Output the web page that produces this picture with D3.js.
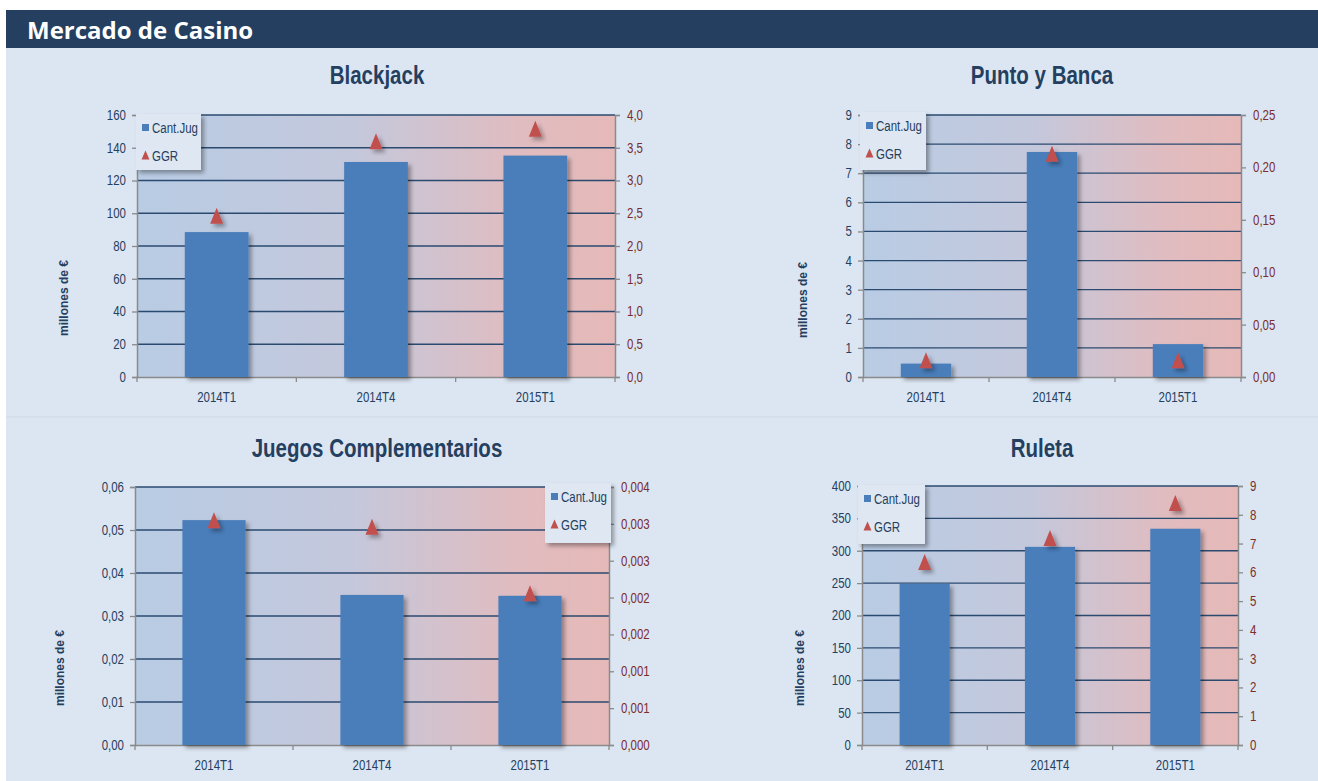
<!DOCTYPE html>
<html>
<head>
<meta charset="utf-8">
<script src="https://cdn.jsdelivr.net/npm/d3@7"></script>
<style>
  html, body { margin: 0; padding: 0; background: #ffffff; }
  svg { display: block; }
  text { font-family: "Liberation Sans", Arial, sans-serif; }
</style>
</head>
<body>
<svg width="1318" height="781"></svg>
<script>
// categorias y valores
const categories = ['2014T1', '2014T4', '2015T1'];

const blackjackJug = [88.5, 131.3, 135.2];
const blackjackGgr = [2.46, 3.60, 3.79];
const blackjackLeftTicks = [0, 20, 40, 60, 80, 100, 120, 140, 160];
const blackjackRightTicks = [0, 0.5, 1, 1.5, 2, 2.5, 3, 3.5, 4];

const puntoJug = [0.46, 7.73, 1.13];
const puntoGgr = [0.016, 0.213, 0.016];
const puntoLeftTicks = [0, 1, 2, 3, 4, 5, 6, 7, 8, 9];
const puntoRightTicks = [0, 0.05, 0.1, 0.15, 0.2, 0.25];

const juegosJug = [0.0523, 0.0349, 0.0347];
const juegosGgr = [0.00305, 0.00296, 0.00206];
const juegosLeftTicks = [0, 0.01, 0.02, 0.03, 0.04, 0.05, 0.06];
const juegosRightTicks = [0, 0.0005, 0.001, 0.0015, 0.002, 0.0025, 0.003, 0.0035];
const juegosRightLabels = ['0,000', '0,001', '0,001', '0,002', '0,002', '0,003', '0,003', '0,004'];

const ruletaJug = [249, 306, 334];
const ruletaGgr = [6.36, 7.19, 8.41];
const ruletaLeftTicks = [0, 50, 100, 150, 200, 250, 300, 350, 400];
const ruletaRightTicks = [0, 1, 2, 3, 4, 5, 6, 7, 8, 9];

const seriesNames = ['Cant.Jug', 'GGR'];

const svg = d3.select('svg');
const width = +svg.attr('width');
const height = +svg.attr('height');

const navy = '#243f60';
const barColor = '#4a7ebb';
const triColor = '#c0504d';
const axisGray = '#8a8a8a';
const narrow = 0.82; // imita Arial Narrow

const comma = f => v => d3.format(f)(v).replace('.', ',');

// estrecha un texto horizontalmente sin mover su ancla
function condense(sel) {
  sel.each(function() {
    const t = d3.select(this);
    const x0 = +t.attr('x') || 0;
    t.attr('x', 0).attr('transform', `translate(${x0},0) scale(${narrow},1)`);
  });
}

// fondo
svg.append('rect').attr('x', 6).attr('y', 48).attr('width', width - 6).attr('height', height - 48)
  .attr('fill', '#dce6f2');
svg.append('rect').attr('x', 6).attr('y', 10).attr('width', width - 6).attr('height', 38)
  .attr('fill', navy);
svg.append('text').attr('x', 27).attr('y', 39)
  .style('font-family', '"Open Sans", "Noto Sans", sans-serif')
  .style('font-weight', 700).style('font-size', '24px')
  .attr('fill', '#ffffff').text('Mercado de Casino');
svg.append('line').attr('x1', 6).attr('x2', width).attr('y1', 417).attr('y2', 417)
  .attr('stroke', '#cfd9e6').attr('stroke-width', 1);

const defs = svg.append('defs');
const grad = defs.append('linearGradient').attr('id', 'plotBg')
  .attr('x1', '0%').attr('x2', '100%').attr('y1', '0%').attr('y2', '0%');
grad.append('stop').attr('offset', '0%').attr('stop-color', '#b8cce4');
grad.append('stop').attr('offset', '45%').attr('stop-color', '#c4c8dc');
grad.append('stop').attr('offset', '80%').attr('stop-color', '#e0bcc0');
grad.append('stop').attr('offset', '100%').attr('stop-color', '#e6b9b8');

const shadow = defs.append('filter').attr('id', 'shadow')
  .attr('x', '-20%').attr('y', '-20%').attr('width', '160%').attr('height', '160%');
shadow.append('feDropShadow').attr('dx', 3).attr('dy', 3).attr('stdDeviation', 2.2)
  .attr('flood-color', '#000').attr('flood-opacity', 0.35);

function trianglePath(cx, cy, w, h) {
  return `M${cx},${cy - h / 2}L${cx + w / 2},${cy + h / 2}L${cx - w / 2},${cy + h / 2}Z`;
}

function drawPanel(cfg) {
  const p = cfg.plot;
  const g = svg.append('g');

  const x = d3.scaleBand().domain(categories).range([p.x, p.x + p.w])
    .paddingInner(0.6).paddingOuter(0.3);
  const yL = d3.scaleLinear().domain(d3.extent(cfg.leftTicks)).range([p.y + p.h, p.y]);
  const yR = d3.scaleLinear().domain(d3.extent(cfg.rightTicks)).range([p.y + p.h, p.y]);

  g.append('rect').attr('x', p.x).attr('y', p.y).attr('width', p.w).attr('height', p.h)
    .attr('fill', 'url(#plotBg)');

  // lineas de cuadricula
  g.selectAll('.grid').data(cfg.leftTicks.slice(1)).join('line')
    .attr('x1', p.x).attr('x2', p.x + p.w)
    .attr('y1', d => yL(d)).attr('y2', d => yL(d))
    .attr('stroke', '#2b4a6f').attr('stroke-width', 1.3);

  // ejes
  const left = g.append('g').attr('transform', `translate(${p.x},0)`)
    .call(d3.axisLeft(yL).tickValues(cfg.leftTicks).tickFormat(cfg.leftFormat).tickSize(5).tickPadding(6));
  const right = g.append('g').attr('transform', `translate(${p.x + p.w},0)`)
    .call(d3.axisRight(yR).tickValues(cfg.rightTicks)
      .tickFormat(cfg.rightLabels ? (d, i) => cfg.rightLabels[i] : cfg.rightFormat)
      .tickSize(5).tickPadding(7));
  const bottom = g.append('g').attr('transform', `translate(0,${p.y + p.h})`)
    .call(d3.axisBottom(x).tickSize(0).tickPadding(15));

  [left, right, bottom].forEach(a => {
    a.select('.domain').attr('stroke', axisGray).attr('stroke-width', 1.5);
    a.selectAll('.tick line').attr('stroke', axisGray).attr('stroke-width', 1.3);
    a.selectAll('text').style('font-family', '"Liberation Sans", Arial, sans-serif')
      .style('font-size', '14px').call(condense);
  });
  left.selectAll('text').attr('fill', navy);
  right.selectAll('text').attr('fill', '#7b2c2c');
  bottom.selectAll('text').attr('fill', navy);

  // marcas entre categorias en el eje x
  const bounds = [p.x, p.x + p.w / 3, p.x + 2 * p.w / 3, p.x + p.w];
  g.selectAll('.xt').data(bounds).join('line')
    .attr('x1', d => d).attr('x2', d => d)
    .attr('y1', p.y + p.h).attr('y2', p.y + p.h + 5)
    .attr('stroke', axisGray).attr('stroke-width', 1.3);

  // barras
  g.selectAll('.bar').data(cfg.jug).join('rect')
    .attr('x', (d, i) => x(categories[i]))
    .attr('y', d => yL(d))
    .attr('width', x.bandwidth())
    .attr('height', d => yL(0) - yL(d))
    .attr('fill', barColor)
    .attr('filter', 'url(#shadow)');

  // triangulos GGR
  g.selectAll('.tri').data(cfg.ggr).join('path')
    .attr('d', (d, i) => trianglePath(x(categories[i]) + x.bandwidth() / 2, yR(d), 13, 16))
    .attr('fill', triColor)
    .attr('filter', 'url(#shadow)');

  // titulo
  g.append('text').attr('x', cfg.title.x).attr('y', cfg.title.y)
    .attr('text-anchor', 'middle')
    .style('font-weight', 700).style('font-size', '25px')
    .attr('fill', navy).text(cfg.title.text)
    .call(condense);

  // etiqueta eje y
  g.append('text')
    .attr('transform', `translate(${cfg.ylab.x},${cfg.ylab.y}) rotate(-90)`)
    .attr('text-anchor', 'middle')
    .style('font-weight', 700).style('font-size', '12px')
    .attr('fill', navy).text('millones de €');

  // leyenda
  const L = cfg.legend;
  const lg = g.append('g').attr('transform', `translate(${L.x},${L.y})`);
  lg.append('rect').attr('width', L.w).attr('height', L.h)
    .attr('fill', '#dfe7f2').attr('filter', 'url(#shadow)');
  lg.append('rect').attr('x', 6).attr('y', 10).attr('width', 7).attr('height', 7).attr('fill', barColor);
  lg.append('path').attr('d', trianglePath(9.5, 41, 8, 9)).attr('fill', triColor);
  lg.selectAll('.lt').data(seriesNames).join('text')
    .attr('x', 16).attr('y', (d, i) => 19 + i * 28)
    .style('font-size', '14px').attr('fill', navy)
    .text(d => d)
    .call(condense);
}

drawPanel({
  plot: {x: 137, y: 115, w: 478, h: 262},
  title: {x: 377, y: 84, text: 'Blackjack'},
  ylab: {x: 68, y: 298},
  legend: {x: 136, y: 114, w: 65, h: 56},
  jug: blackjackJug, ggr: blackjackGgr,
  leftTicks: blackjackLeftTicks, rightTicks: blackjackRightTicks,
  leftFormat: comma('d'), rightFormat: comma('.1f')
});

drawPanel({
  plot: {x: 863, y: 115, w: 378, h: 262},
  title: {x: 1042, y: 84, text: 'Punto y Banca'},
  ylab: {x: 807, y: 300},
  legend: {x: 860, y: 112, w: 66, h: 58},
  jug: puntoJug, ggr: puntoGgr,
  leftTicks: puntoLeftTicks, rightTicks: puntoRightTicks,
  leftFormat: comma('d'), rightFormat: comma('.2f')
});

drawPanel({
  plot: {x: 135, y: 487, w: 474, h: 258},
  title: {x: 377, y: 457, text: 'Juegos Complementarios'},
  ylab: {x: 64, y: 668},
  legend: {x: 545, y: 483, w: 66, h: 60},
  jug: juegosJug, ggr: juegosGgr,
  leftTicks: juegosLeftTicks, rightTicks: juegosRightTicks,
  rightLabels: juegosRightLabels,
  leftFormat: comma('.2f')
});

drawPanel({
  plot: {x: 862, y: 486, w: 376, h: 259},
  title: {x: 1042, y: 457, text: 'Ruleta'},
  ylab: {x: 804, y: 668},
  legend: {x: 858, y: 485, w: 67, h: 59},
  jug: ruletaJug, ggr: ruletaGgr,
  leftTicks: ruletaLeftTicks, rightTicks: ruletaRightTicks,
  leftFormat: comma('d'), rightFormat: comma('d')
});
</script>
</body>
</html>
